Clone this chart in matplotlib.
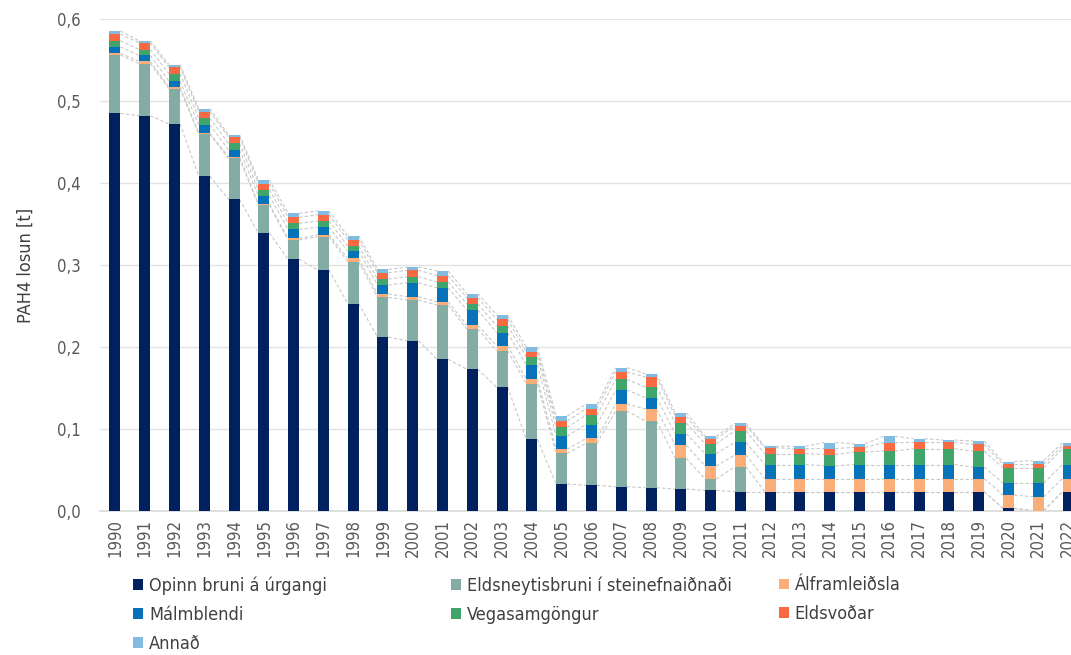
import numpy as np
import matplotlib.pyplot as plt

plt.rcParams['font.family'] = ['DejaVu Sans']
plt.rcParams['font.stretch'] = 'condensed'

# Gögn (t PAH4)
years = list(range(1990, 2023))

opinn = [0.485, 0.482, 0.472, 0.4085, 0.380, 0.339, 0.307, 0.294, 0.253, 0.212,
         0.2077, 0.185, 0.173, 0.151, 0.0874, 0.033, 0.0313, 0.0297, 0.0285, 0.0268,
         0.0252, 0.0236, 0.0236, 0.0236, 0.0236, 0.0236, 0.0236, 0.0236, 0.0236, 0.0236,
         0.0033, 0.0005, 0.0236]
eldsneyti = [0.071, 0.0635, 0.043, 0.051, 0.050, 0.034, 0.0235, 0.0405, 0.051, 0.0486,
             0.0496, 0.0662, 0.049, 0.0445, 0.0675, 0.0374, 0.0512, 0.0923, 0.0813, 0.0374,
             0.0138, 0.0304, 0, 0, 0, 0, 0, 0, 0, 0,
             0, 0, 0]
alfram = [0.002, 0.003, 0.002, 0.0016, 0.0017, 0.0012, 0.002, 0.0025, 0.004, 0.004,
          0.004, 0.004, 0.0045, 0.006, 0.006, 0.005, 0.006, 0.0085, 0.0146, 0.016,
          0.016, 0.0143, 0.016, 0.016, 0.016, 0.016, 0.016, 0.016, 0.016, 0.016,
          0.0162, 0.017, 0.016]
malm = [0.008, 0.007, 0.0073, 0.010, 0.0085, 0.010, 0.011, 0.009, 0.0093, 0.011,
        0.017, 0.017, 0.0187, 0.016, 0.017, 0.016, 0.017, 0.017, 0.014, 0.014,
        0.015, 0.0154, 0.017, 0.017, 0.0155, 0.017, 0.017, 0.017, 0.017, 0.014,
        0.0146, 0.0166, 0.017]
vega = [0.0075, 0.0073, 0.009, 0.008, 0.008, 0.0075, 0.0073, 0.0077, 0.006, 0.0073,
        0.0073, 0.0073, 0.0073, 0.0085, 0.010, 0.0105, 0.0114, 0.013, 0.013, 0.013,
        0.012, 0.014, 0.0134, 0.0134, 0.0138, 0.0154, 0.0166, 0.0194, 0.0194, 0.0195,
        0.0187, 0.0187, 0.0194]
eldsvodar = [0.008, 0.008, 0.008, 0.008, 0.008, 0.0073, 0.0073, 0.0077, 0.0077, 0.0077,
             0.008, 0.0077, 0.0077, 0.0077, 0.006, 0.008, 0.0077, 0.0093, 0.012, 0.008,
             0.006, 0.0064, 0.0073, 0.006, 0.0073, 0.0056, 0.0101, 0.0077, 0.0077, 0.0081,
             0.0042, 0.0042, 0.0037]
annad = [0.004, 0.0025, 0.003, 0.0036, 0.0025, 0.005, 0.005, 0.0045, 0.0045, 0.004,
         0.004, 0.0056, 0.005, 0.005, 0.006, 0.006, 0.0057, 0.005, 0.004, 0.0045,
         0.003, 0.003, 0.0016, 0.003, 0.0073, 0.0045, 0.0078, 0.0045, 0.0029, 0.0041,
         0.0032, 0.0044, 0.0036]

series = [opinn, eldsneyti, alfram, malm, vega, eldsvodar, annad]
labels = ["Opinn bruni á úrgangi", "Eldsneytisbruni í steinefnaiðnaði", "Álframleiðsla",
          "Málmblendi", "Vegasamgöngur", "Eldsvoðar", "Annað"]
colors = ["#00205F", "#82ACA4", "#FBAE78", "#0672BA", "#3FA56B", "#F96A42", "#82BBE0"]

fig = plt.figure(figsize=(10.71, 6.55), dpi=100)
ax = fig.add_axes([0.0934, 0.2198, 0.9066, 0.7512])

x = np.arange(len(years))
w = 0.37
bottom = np.zeros(len(years))
handles = []
for vals, lab, col in zip(series, labels, colors):
    vals = np.array(vals)
    b = ax.bar(x, vals, w, bottom=bottom, color=col, label=lab, zorder=3)
    handles.append(b)
    bottom = bottom + vals
    # raðlínur milli súlna
    for i in range(len(years) - 1):
        ax.plot([x[i] + w / 2, x[i + 1] - w / 2], [bottom[i], bottom[i + 1]],
                ls=(0, (3, 2)), color="#C8C8C8", lw=0.8, zorder=2)

ax.set_xlim(-0.5, 32.1)
ax.set_ylim(0, 0.6)
ax.set_yticks(np.arange(0, 0.61, 0.1))
ax.set_yticklabels([f"{v:.1f}".replace(".", ",") for v in np.arange(0, 0.61, 0.1)],
                   fontsize=12, color="#595959")
ax.set_xticks(x)
ax.set_xticklabels([str(y) for y in years], rotation=90, fontsize=12, color="#595959")
ax.tick_params(axis="both", length=0)
ax.tick_params(axis="y", pad=14)
ax.tick_params(axis="x", pad=6)
ax.yaxis.grid(True, color="#E3E3E3", lw=1, zorder=0)
for s in ["left", "right", "top"]:
    ax.spines[s].set_visible(False)
ax.spines["bottom"].set_color("#D9D9D9")
ax.spines["bottom"].set_linewidth(1.2)
ax.set_ylabel("PAH4 losun [t]", fontsize=13, color="#404040", labelpad=16)

# þjóðsaga í þremur dálkum
col_x = [0.124, 0.421, 0.727]
for c in range(3):
    h = handles[c::3]
    leg = fig.legend(h, [hh.get_label() for hh in h], loc="upper left",
                     bbox_to_anchor=(col_x[c], 0.12), frameon=False, fontsize=13,
                     handlelength=0.55, handleheight=0.55, handletextpad=0.35,
                     labelspacing=0.6, borderaxespad=0, borderpad=0)
    for t in leg.get_texts():
        t.set_color("#404040")

fig.savefig("out.png", dpi=100)
